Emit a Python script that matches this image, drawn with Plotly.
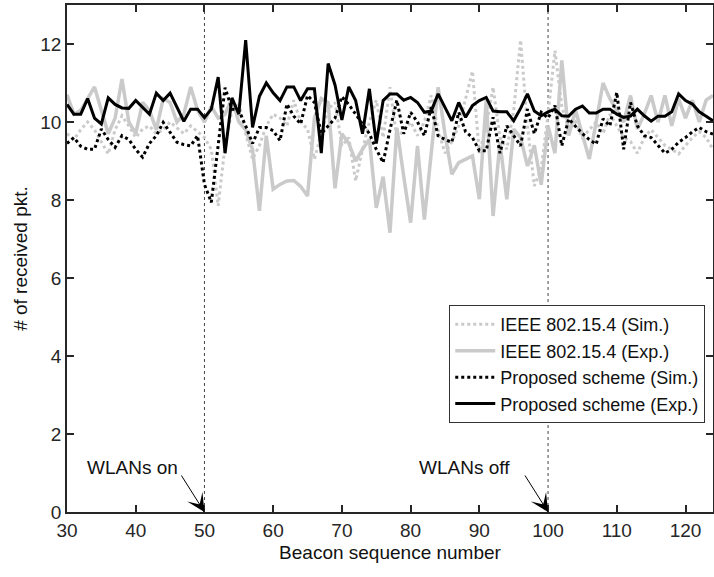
import plotly.graph_objects as go

seq = list(range(30, 125))

ieee_sim = [9.7, 9.55, 9.8, 10.0, 9.8, 9.5, 9.18, 9.8, 10.16, 9.9,
            9.6, 9.82, 9.9, 9.7, 9.8, 10.0, 9.85, 9.7, 9.9, 9.75,
            9.6, 9.3, 7.85, 9.4, 10.3, 10.5, 9.7, 9.05, 9.4, 9.9,
            10.2, 10.1, 9.9, 10.56, 9.99, 9.82, 9.05, 9.7, 10.33, 10.5,
            9.39, 9.6, 8.49, 9.3, 10.0, 10.56, 9.6, 10.89, 9.56, 9.8,
            10.0, 9.65, 10.0, 10.68, 9.8, 9.2, 9.5, 9.9, 10.6, 11.3,
            9.2, 9.9, 10.89, 9.6, 9.3, 10.3, 12.1, 9.9, 8.36, 8.8,
            10.2, 11.83, 10.4, 9.8, 10.0, 9.6, 9.8, 10.0, 9.7, 10.2,
            9.9, 9.6, 9.5, 9.2, 9.6, 9.8, 9.6, 9.4, 9.3, 9.18,
            9.4, 9.6, 9.75, 9.6, 9.3]

ieee_exp = [10.7, 10.2, 10.3, 10.6, 10.9, 10.3, 9.7, 10.1, 11.1, 10.0,
            9.7, 10.5, 10.3, 9.8, 10.6, 10.5, 10.0, 10.2, 10.9, 10.3,
            10.0, 10.4, 10.1, 10.2, 10.6, 10.0, 9.8, 9.3, 7.72, 9.65,
            8.28, 8.4, 8.49, 8.5, 8.35, 8.1, 10.1, 10.6, 10.5, 8.3,
            9.7, 9.45, 9.0, 9.3, 9.56, 7.8, 8.6, 7.16, 9.85, 8.6,
            7.42, 9.39, 7.5, 9.2, 10.89, 9.7, 8.66, 8.96, 9.05, 9.13,
            8.02, 10.56, 7.59, 9.48, 8.02, 9.82, 9.6, 8.87, 9.4, 8.39,
            9.9, 9.2, 11.58, 9.65, 10.3, 9.7, 9.05, 10.0, 11.0, 10.6,
            10.28, 10.0, 10.68, 9.82, 10.2, 10.68, 10.0, 10.68, 9.9, 10.6,
            10.1, 10.56, 10.0, 10.56, 10.68]

prop_sim = [9.45, 9.6, 9.38, 9.3, 9.3, 9.82, 9.55, 9.35, 9.65, 9.55,
            9.3, 9.1, 9.45, 9.65, 9.99, 9.75, 9.48, 9.42, 9.39, 9.65,
            8.4, 7.94, 9.4, 10.88, 10.33, 10.3, 9.9, 9.45, 9.86, 9.86,
            9.78, 9.52, 10.46, 10.15, 9.95, 10.68, 10.5, 9.7, 9.9, 10.1,
            10.65, 10.45, 10.2, 9.95, 9.7, 9.3, 8.96, 9.8, 10.56, 9.7,
            10.25, 10.0, 9.65, 10.38, 9.65, 9.55, 9.48, 10.25, 9.75, 9.6,
            9.26, 9.26, 10.12, 9.2, 9.9, 9.65, 9.39, 10.33, 9.7, 10.25,
            10.1, 10.42, 9.39, 10.08, 9.9, 9.7, 9.55, 9.43, 10.08, 9.9,
            10.76, 9.3, 10.5, 9.9, 9.65, 9.6, 9.4, 9.2, 9.3, 9.48,
            9.6, 9.75, 9.86, 9.75, 9.69]

prop_exp = [10.45, 10.2, 10.2, 10.6, 10.1, 9.95, 10.62, 10.45, 10.36, 10.35,
            10.55, 10.38, 10.2, 10.74, 10.55, 10.74, 10.4, 10.02, 10.33, 10.33,
            10.11, 10.33, 11.15, 9.2, 10.62, 10.2, 12.1, 9.86, 10.66, 11.0,
            10.75, 10.55, 10.9, 10.9, 10.55, 10.85, 10.85, 9.2, 11.5, 10.95,
            10.05, 10.9, 10.55, 9.7, 10.85, 9.45, 10.55, 10.72, 10.72, 10.56,
            10.63, 10.5, 10.25, 10.28, 10.72, 10.38, 10.03, 10.5, 10.12, 10.42,
            10.55, 10.63, 10.28, 10.26, 10.26, 10.03, 10.35, 10.72, 10.28, 10.16,
            10.26, 10.33, 10.16, 10.15, 10.33, 10.41, 10.23, 10.23, 10.33, 10.33,
            10.2, 10.12, 10.15, 10.33, 10.16, 10.02, 10.15, 10.15, 10.26, 10.72,
            10.55, 10.46, 10.26, 10.15, 10.03]

series_names = ["IEEE 802.15.4 (Sim.)", "IEEE 802.15.4 (Exp.)",
                "Proposed scheme (Sim.)", "Proposed scheme (Exp.)"]

events_x = [50, 100]
events_text = ["WLANs on", "WLANs off"]
events_text_x = [39.6, 87.9]

x_ticks = [30, 40, 50, 60, 70, 80, 90, 100, 110, 120]
y_ticks = [0, 2, 4, 6, 8, 10, 12]

FONT = "Liberation Sans, Arial"
gray = "#cacaca"
fig = go.Figure()
fig.add_trace(go.Scatter(x=seq, y=ieee_sim, mode="lines", name=series_names[0],
                         line=dict(color=gray, width=3, dash="dot")))
fig.add_trace(go.Scatter(x=seq, y=ieee_exp, mode="lines", name=series_names[1],
                         line=dict(color=gray, width=3.5)))
fig.add_trace(go.Scatter(x=seq, y=prop_sim, mode="lines", name=series_names[2],
                         line=dict(color="black", width=3, dash="dot")))
fig.add_trace(go.Scatter(x=seq, y=prop_exp, mode="lines", name=series_names[3],
                         line=dict(color="black", width=3)))

for ex in events_x:
    fig.add_shape(type="line", x0=ex, x1=ex, y0=0, y1=13, xref="x", yref="y",
                  line=dict(color="#444444", width=1, dash="dot"), layer="below")

for ex, txt, tx in zip(events_x, events_text, events_text_x):
    fig.add_annotation(x=tx, y=1.15, text=txt, showarrow=False,
                       font=dict(family=FONT, size=19, color="#111111"))
    fig.add_annotation(x=ex, y=0, ax=-24, ay=-38, text="", showarrow=True,
                       arrowhead=3, arrowsize=3, arrowwidth=1, arrowcolor="black",
                       standoff=0)

axis_common = dict(showline=True, linecolor="#262626", linewidth=1.5, mirror="ticks",
                   ticks="inside", ticklen=7, tickwidth=1.5, tickcolor="#262626",
                   showgrid=False, zeroline=False,
                   tickfont=dict(family=FONT, size=19, color="#262626"))

fig.update_xaxes(range=[30, 124], tickvals=x_ticks, **axis_common,
                 title=dict(text="Beacon sequence number", standoff=6,
                            font=dict(family=FONT, size=19, color="#111111")))
fig.update_yaxes(range=[0, 13], tickvals=y_ticks, **axis_common,
                 title=dict(text="# of received pkt.", standoff=8,
                            font=dict(family=FONT, size=19, color="#111111")))

fig.update_layout(
    width=714, height=577,
    margin=dict(l=67, r=1, t=5, b=65, autoexpand=False),
    plot_bgcolor="white", paper_bgcolor="white",
    showlegend=True,
    legend=dict(x=0.988, y=0.408, xanchor="right", yanchor="top",
                bgcolor="white", bordercolor="#333333", borderwidth=1,
                font=dict(family=FONT, size=18, color="#111111"),
                tracegroupgap=0, itemwidth=40),
)

fig.write_html("out.html")
